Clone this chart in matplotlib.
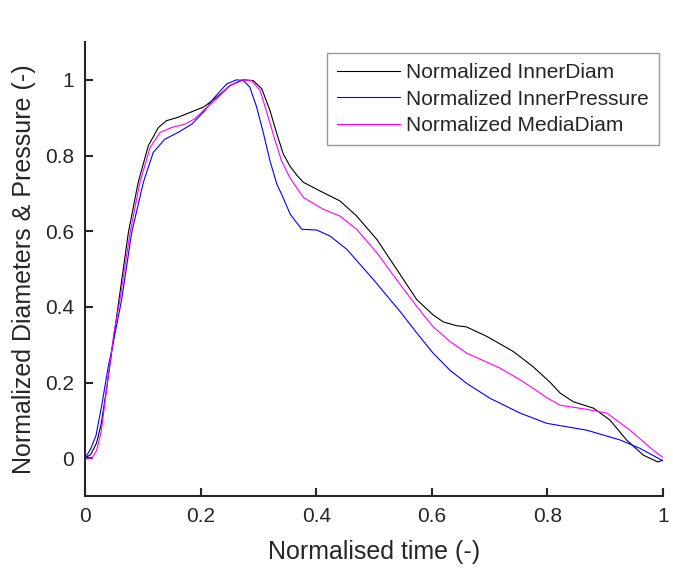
import matplotlib
matplotlib.use("Agg")
import matplotlib.pyplot as plt

plt.rcParams['font.family'] = ['Liberation Sans', 'DejaVu Sans']

t_inner = [0, 0.01, 0.02, 0.028, 0.038, 0.048, 0.0588, 0.075, 0.092, 0.1096, 0.127, 0.141,
           0.161, 0.182, 0.205, 0.228, 0.251, 0.274, 0.291, 0.306, 0.32, 0.332, 0.343, 0.355,
           0.367, 0.378, 0.407, 0.441, 0.47, 0.505, 0.551, 0.574, 0.602, 0.62, 0.643, 0.66,
           0.695, 0.741, 0.775, 0.805, 0.822, 0.845, 0.88, 0.908, 0.937, 0.966, 0.991, 1.0]
y_inner = [0, 0.01, 0.04, 0.09, 0.19, 0.3, 0.419, 0.596, 0.729, 0.826, 0.874, 0.892,
           0.901, 0.914, 0.928, 0.954, 0.985, 1.0, 0.998, 0.976, 0.919, 0.857, 0.804, 0.771,
           0.747, 0.729, 0.706, 0.68, 0.64, 0.578, 0.472, 0.419, 0.379, 0.36, 0.35, 0.347,
           0.322, 0.282, 0.242, 0.2, 0.172, 0.149, 0.132, 0.101, 0.048, 0.008, -0.01, -0.005]

t_press = [0, 0.01, 0.019, 0.029, 0.04, 0.052, 0.0634, 0.0807, 0.101, 0.118, 0.138, 0.161,
           0.185, 0.2076, 0.222, 0.245, 0.262, 0.274, 0.285, 0.297, 0.309, 0.32, 0.332, 0.34,
           0.355, 0.375, 0.401, 0.424, 0.453, 0.499, 0.545, 0.574, 0.602, 0.631, 0.66, 0.701,
           0.753, 0.799, 0.868, 0.926, 0.96, 1.0]
y_press = [0, 0.025, 0.06, 0.14, 0.24, 0.33, 0.419, 0.596, 0.729, 0.808, 0.843, 0.861,
           0.883, 0.919, 0.95, 0.989, 1.0, 0.998, 0.981, 0.928, 0.857, 0.786, 0.724, 0.698,
           0.645, 0.605, 0.603, 0.587, 0.552, 0.472, 0.388, 0.331, 0.278, 0.233, 0.198, 0.158,
           0.119, 0.092, 0.074, 0.048, 0.026, -0.007]

t_media = [0, 0.012, 0.02, 0.028, 0.038, 0.05, 0.0605, 0.078, 0.095, 0.1125, 0.13, 0.15,
           0.173, 0.19, 0.2076, 0.228, 0.251, 0.271, 0.288, 0.303, 0.317, 0.329, 0.34, 0.355,
           0.372, 0.378, 0.412, 0.441, 0.47, 0.505, 0.539, 0.574, 0.602, 0.631, 0.66, 0.718,
           0.753, 0.775, 0.799, 0.822, 0.868, 0.903, 0.943, 0.983, 1.0]
y_media = [0, 0.0, 0.02, 0.07, 0.19, 0.33, 0.419, 0.596, 0.729, 0.821, 0.861, 0.874,
           0.883, 0.897, 0.923, 0.95, 0.985, 1.0, 0.998, 0.972, 0.901, 0.839, 0.786, 0.74,
           0.702, 0.689, 0.658, 0.64, 0.605, 0.543, 0.472, 0.401, 0.348, 0.309, 0.278, 0.238,
           0.207, 0.185, 0.16, 0.14, 0.129, 0.119, 0.074, 0.021, 0.002]

labels = ['Normalized InnerDiam', 'Normalized InnerPressure', 'Normalized MediaDiam']
colors = ['#000000', '#0000ff', '#ff00ff']

xticks = [0, 0.2, 0.4, 0.6, 0.8, 1]
xticklabels = ['0', '0.2', '0.4', '0.6', '0.8', '1']
yticks = [0, 0.2, 0.4, 0.6, 0.8, 1]
yticklabels = ['0', '0.2', '0.4', '0.6', '0.8', '1']

W, H = 673, 570
fig = plt.figure(figsize=(W / 100, H / 100), dpi=100)
ax = fig.add_axes([85 / W, 1 - 496 / H, (663 - 85) / W, (496 - 42) / H])

for t, y, lab, c in zip([t_inner, t_press, t_media], [y_inner, y_press, y_media], labels, colors):
    ax.plot(t, y, color=c, lw=0.8, label=lab)

ax.set_xlim(0, 1)
ax.set_ylim(-0.1, 1.1)
ax.set_xticks(xticks)
ax.set_xticklabels(xticklabels)
ax.set_yticks(yticks)
ax.set_yticklabels(yticklabels)

dark = '#262626'
for s in ['top', 'right']:
    ax.spines[s].set_visible(False)
for s in ['left', 'bottom']:
    ax.spines[s].set_color(dark)
    ax.spines[s].set_linewidth(1.5)
ax.tick_params(direction='in', length=6, width=1.5, colors=dark, labelsize=15, pad=8)

ax.set_xlabel('Normalised time (-)', fontsize=18, color=dark, labelpad=10)
ax.set_ylabel('Normalized Diameters & Pressure (-)', fontsize=18, color=dark, labelpad=6)

leg = ax.legend(loc='upper left', bbox_to_anchor=(327 / W, 1 - 53 / H),
                bbox_transform=fig.transFigure, fontsize=15, frameon=True,
                fancybox=False, handlelength=3.0, handletextpad=0.3,
                borderpad=0.5, labelspacing=0.35, borderaxespad=0)
leg.get_frame().set_edgecolor('#7f7f7f')
leg.get_frame().set_linewidth(1.0)
for txt in leg.get_texts():
    txt.set_color(dark)

fig.savefig('out.png', dpi=100)
